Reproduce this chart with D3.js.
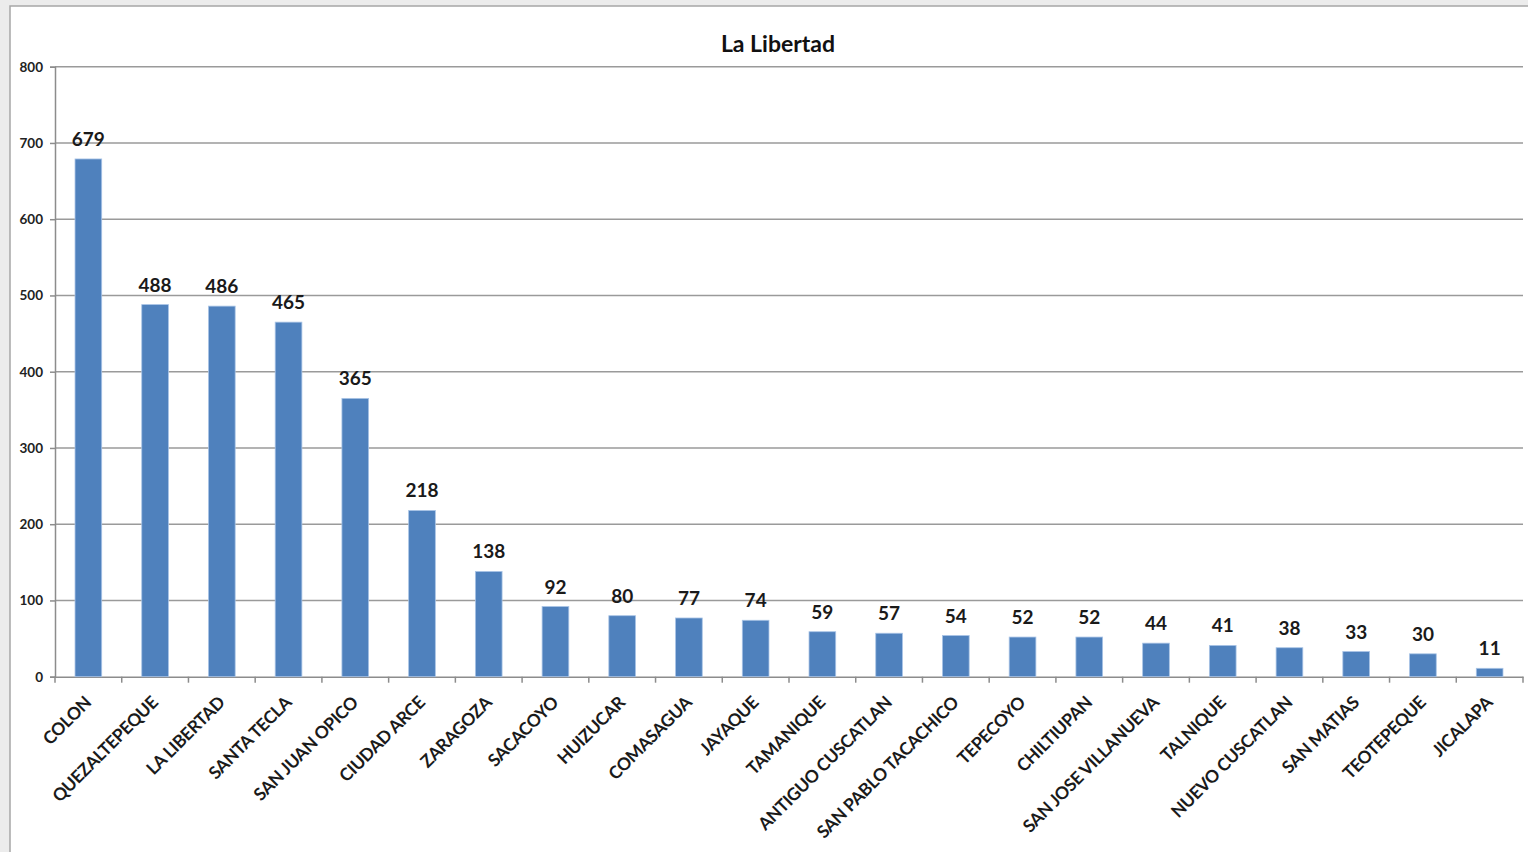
<!DOCTYPE html>
<html><head><meta charset="utf-8">
<script src="https://cdn.jsdelivr.net/npm/d3@7"></script>
<style>
html,body{margin:0;padding:0;background:#fff;}
svg{display:block;}
</style></head>
<body>
<svg id="chart" width="1528" height="852"></svg>
<script>
const categories = ["COLON","QUEZALTEPEQUE","LA LIBERTAD","SANTA TECLA","SAN JUAN OPICO","CIUDAD ARCE","ZARAGOZA","SACACOYO","HUIZUCAR","COMASAGUA","JAYAQUE","TAMANIQUE","ANTIGUO CUSCATLAN","SAN PABLO TACACHICO","TEPECOYO","CHILTIUPAN","SAN JOSE VILLANUEVA","TALNIQUE","NUEVO CUSCATLAN","SAN MATIAS","TEOTEPEQUE","JICALAPA"];
const values = [679,488,486,465,365,218,138,92,80,77,74,59,57,54,52,52,44,41,38,33,30,11];
const yTicks = [0,100,200,300,400,500,600,700,800];
const title = "La Libertad";

(function(){
const svg = d3.select("#chart");
const font = "Lato, 'Open Sans', sans-serif";

// outer background and frame
svg.append("rect").attr("x",0).attr("y",0).attr("width",1528).attr("height",852).attr("fill","#ececec");
svg.append("rect").attr("x",10).attr("y",6).attr("width",1530).attr("height",860)
  .attr("fill","#fff").attr("stroke","#a6a6a6").attr("stroke-width",1.5);

const pLeft = 55, pRight = 1523, pTop = 66.7, pBottom = 676.7;
const x = d3.scaleBand().domain(categories).range([pLeft,pRight]).paddingInner(0).paddingOuter(0);
const y = d3.scaleLinear().domain([0,800]).range([pBottom,pTop]);

// gridlines
svg.append("g").selectAll("line").data(yTicks.filter(d=>d>0)).join("line")
  .attr("x1",pLeft).attr("x2",pRight)
  .attr("y1",d=>y(d)).attr("y2",d=>y(d))
  .attr("stroke","#9a9a9a").attr("stroke-width",1.6);

// y axis
const yAxis = svg.append("g").attr("transform",`translate(${pLeft},0)`)
  .call(d3.axisLeft(y).tickValues(yTicks).tickSize(5).tickPadding(7));
yAxis.select(".domain").attr("stroke","#8c8c8c").attr("stroke-width",1.5);
yAxis.selectAll(".tick line").attr("stroke","#8c8c8c").attr("stroke-width",1.5);
yAxis.selectAll(".tick text").attr("font-family",font).attr("font-size",13.5).attr("font-weight","bold").attr("fill","#222");

// x axis
const xAxis = svg.append("g").attr("transform",`translate(0,${pBottom})`)
  .call(d3.axisBottom(x).tickSize(0).tickFormat(""));
xAxis.select(".domain").attr("stroke","#8c8c8c").attr("stroke-width",1.5);
// tick marks at band edges
svg.append("g").selectAll("line").data(categories.concat(["__end"])).join("line")
  .attr("x1",(d,i)=> i<categories.length ? x(d) : pRight)
  .attr("x2",(d,i)=> i<categories.length ? x(d) : pRight)
  .attr("y1",pBottom).attr("y2",pBottom+6)
  .attr("stroke","#8c8c8c").attr("stroke-width",1.5);

// bars
const bw = x.bandwidth()*0.4;
svg.append("g").selectAll("rect").data(values).join("rect")
  .attr("x",(d,i)=>x(categories[i])+x.bandwidth()/2-bw/2)
  .attr("width",bw)
  .attr("y",d=>y(d))
  .attr("height",d=>pBottom-y(d))
  .attr("fill","#4f81bd")
  .attr("stroke","#a9c4e6").attr("stroke-width",0.8);

// value labels
svg.append("g").selectAll("text").data(values).join("text")
  .attr("x",(d,i)=>x(categories[i])+x.bandwidth()/2)
  .attr("y",d=>y(d)-13)
  .attr("text-anchor","middle")
  .attr("font-family",font).attr("font-size",19).attr("font-weight","bold").attr("fill","#1a1a1a")
  .text(d=>d);

// category labels
svg.append("g").selectAll("text").data(categories).join("text")
  .attr("transform",d=>`translate(${x(d)+x.bandwidth()/2+4},${pBottom+27}) rotate(-45)`)
  .attr("text-anchor","end")
  .attr("font-family",font).attr("font-size",17.5).attr("font-weight","bold")
  .attr("letter-spacing",-0.4).attr("fill","#1a1a1a")
  .text(d=>d);

// title
svg.append("text").attr("x",778).attr("y",52).attr("text-anchor","middle")
  .attr("font-family",font).attr("font-size",23).attr("font-weight","bold").attr("fill","#111")
  .text(title);
})();
</script>
</body></html>
